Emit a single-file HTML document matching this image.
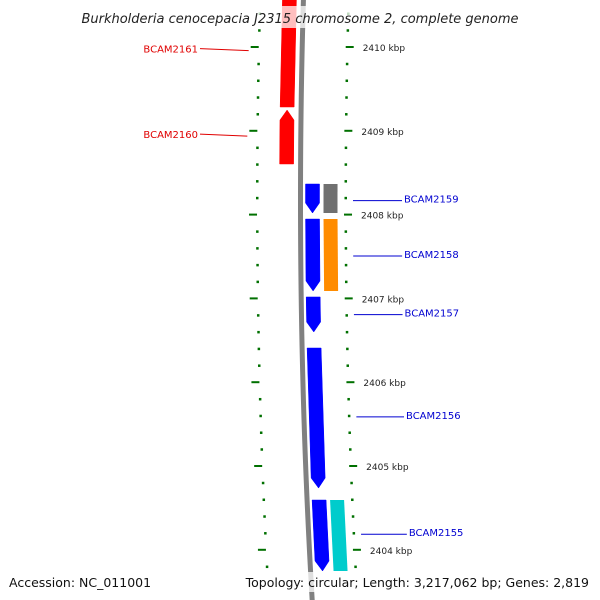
<!DOCTYPE html>
<html><head><meta charset="utf-8"><style>
body{margin:0;background:#fff}
svg{display:block;font-family:"DejaVu Sans","Liberation Sans",sans-serif}
</style></head><body>
<svg id="c" width="600" height="600" viewBox="0 0 600 600">
<g id="ticks"></g>
<path id="axis" fill="none" stroke="#808080" stroke-width="5"/>
<g id="feats"></g>
<g id="labels"></g>
<rect x="60" y="6" width="480" height="22" fill="#fff" opacity="0.75"/>
<text x="300" y="23" text-anchor="middle" font-size="13" font-style="italic" fill="#222">Burkholderia cenocepacia J2315 chromosome 2, complete genome</text>
<rect x="0" y="572" width="600" height="20" fill="#fff" opacity="0.75"/>
<text x="9" y="587" font-size="12.5" fill="#111">Accession: NC_011001</text>
<text x="589" y="587" text-anchor="end" font-size="12.5" fill="#111">Topology: circular; Length: 3,217,062 bp; Genes: 2,819</text>
</svg>
<script>
const featNames=["BCAM2161","BCAM2160","BCAM2159","BCAM2158","BCAM2157","BCAM2156","BCAM2155"];
const featStarts=[2410.6,2409.248,2408.365,2407.947,2407.017,2406.408,2404.594];
const featEnds=[2409.284,2408.604,2408.019,2407.088,2406.599,2404.737,2403.747];
const featStrand=[-1,-1,1,1,1,1,1];
const featHead=[0,1,1,1,1,1,1];
const featColors=["#ff0000","#ff0000","#0000ff","#0000ff","#0000ff","#0000ff","#0000ff"];
const labelKbp=[2409.98,2408.96,2408.19,2407.53,2406.83,2405.61,2404.21];
const extraStarts=[2408.365,2407.947,2404.594];
const extraEnds=[2408.019,2407.088,2403.747];
const extraColors=["#707070","#ff8c00","#00cccc"];
const tickLabels=[2410,2409,2408,2407,2406,2405,2404];

const NS="http://www.w3.org/2000/svg";
function y(k){return 47+(2410-k)*83.8;}
function off(yy){return 7.3e-5*(yy-200)*(yy-200);}
function mk(tag,attrs,parent){const e=document.createElementNS(NS,tag);for(const a in attrs)e.setAttribute(a,attrs[a]);parent.appendChild(e);return e;}

// axis
let d="";for(let yy=-5;yy<=605;yy+=5){d+=(yy===-5?"M":"L")+(300.5+off(yy)).toFixed(2)+","+yy;}
document.getElementById("axis").setAttribute("d",d);

// ticks
const tg=document.getElementById("ticks");
for(let i=-3;i<=34;i++){
  const k=2410.6-i*0.2; const yy=y(k); const major=Math.abs(k-Math.round(k))<0.01;
  const o=off(yy);
  if(major){
    const l=mk("rect",{x:249+o,y:yy-1,width:8,height:2,fill:"#007000"},tg);
    
    
    const r=mk("rect",{x:344+o,y:yy-1,width:8,height:2,fill:"#007000"},tg);
    
    
  } else {
    const l=mk("rect",{x:256+o,y:yy-1,width:2.5,height:2.5,fill:"#007000"},tg);
    
    
    const r=mk("rect",{x:344.5+o,y:yy-1,width:2.5,height:2.5,fill:"#007000"},tg);
    
    
  }
}
tickLabels.forEach(k=>{
  const yy=y(k);
  const t=mk("text",{x:361+off(yy),y:yy+4,"font-size":"9",fill:"#222"},tg);
  t.textContent=k+" kbp";
  
  
});

// features
const fg=document.getElementById("feats");
function shape(x0,w,ya,yb,headDir){
  // ya top, yb bottom; headDir: 1 = head at bottom, -1 = head at top, 0 none
  const h=10;const oa=off(ya),ob=off(yb);
  if(headDir===1){const ym=yb-h,om=off(ym);
    return `M${x0+oa},${ya}L${x0+w+oa},${ya}L${x0+w+om},${ym}L${x0+w/2+ob},${yb}L${x0+om},${ym}Z`;}
  if(headDir===-1){const ym=ya+h,om=off(ym);
    return `M${x0+w/2+oa},${ya}L${x0+w+om},${ym}L${x0+w+ob},${yb}L${x0+ob},${yb}L${x0+om},${ym}Z`;}
  return `M${x0+oa},${ya}L${x0+w+oa},${ya}L${x0+w+ob},${yb}L${x0+ob},${yb}Z`;
}
featNames.forEach((n,i)=>{
  const ya=y(featStarts[i]),yb=y(featEnds[i]);
  const x0=featStrand[i]<0?279.5:305.5;
  const dir=featHead[i]?(featStrand[i]<0?-1:1):0;
  const p=mk("path",{d:shape(x0,14,ya,yb,dir),fill:featColors[i],stroke:featColors[i],"stroke-width":"0.5"},fg);
  
  
});
extraStarts.forEach((s,i)=>{
  const ya=y(s),yb=y(extraEnds[i]);
  const p=mk("path",{d:shape(323.5,14,ya,yb,0),fill:extraColors[i]},fg);
  
  
});

// labels
const lg=document.getElementById("labels");
featNames.forEach((n,i)=>{
  const yy=y(labelKbp[i]);const left=featStrand[i]<0;const col=left?"#e00000":"#0000d0";
  const o=off(yy);
  if(left){
    mk("line",{x1:200,y1:yy,x2:247+o,y2:yy+2,stroke:col,"stroke-width":"1"},lg);
    const t=mk("text",{x:198,y:yy+4,"text-anchor":"end","font-size":"10",fill:col},lg);
    t.textContent=n;
    
    
  } else {
    mk("line",{x1:353+o,y1:yy+2,x2:402+o*0.6,y2:yy+2,stroke:col,"stroke-width":"1"},lg);
    const t=mk("text",{x:404+o*0.6,y:yy+4,"font-size":"10",fill:col},lg);
    t.textContent=n;
    
    
  }
});
</script>
</body></html>
